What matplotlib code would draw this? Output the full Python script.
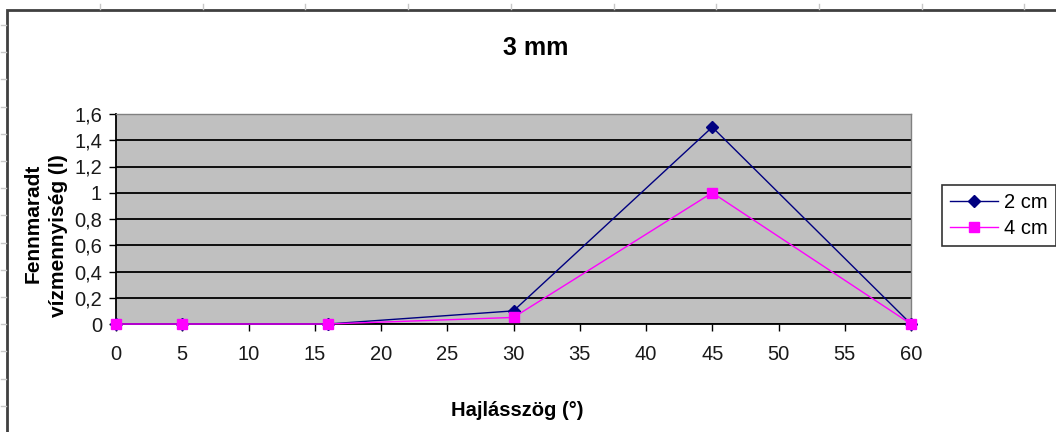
import matplotlib

matplotlib.use("Agg")

import matplotlib.pyplot as plt
from matplotlib.lines import Line2D
from matplotlib.patches import Rectangle
from matplotlib.ticker import FuncFormatter

# Hajlásszög (°) and remaining water (l) for the two distances
angles = [0, 5, 16, 30, 45, 60]
water_2cm = [0, 0, 0, 0.1, 1.5, 0]
water_4cm = [0, 0, 0, 0.05, 1.0, 0]

x_ticks = list(range(0, 61, 5))
y_ticks = [0, 0.2, 0.4, 0.6, 0.8, 1.0, 1.2, 1.4, 1.6]

plt.rcParams["font.family"] = ["Liberation Sans", "DejaVu Sans"]

W, H = 1056, 432
fig = plt.figure(figsize=(W / 100, H / 100), dpi=100)
fig.patch.set_facecolor("white")

# chart area border (only top and left visible) + sheet cell ticks
fig.add_artist(Rectangle((7 / W, -0.1), 1.2, 1 - 10 / H + 0.1,
                         transform=fig.transFigure, fill=False,
                         edgecolor="#404040", linewidth=2))
for i in range(1, 11):
    x = (100 + 102.7 * (i - 1)) / W
    fig.add_artist(Line2D([x, x], [1 - 4 / H, 1 - 9 / H],
                          transform=fig.transFigure, color="#c8c8c8", lw=1))
for i in range(1, 16):
    y = 1 - (25 + 27.2 * (i - 1)) / H
    fig.add_artist(Line2D([1 / W, 6 / W], [y, y],
                          transform=fig.transFigure, color="#c8c8c8", lw=1))

ax = fig.add_axes([116 / W, 1 - 324 / H, 795 / W, 210 / H])
ax.set_facecolor("#c0c0c0")

ax.plot(angles, water_2cm, color="#000080", lw=1, marker="D",
        markersize=6, markerfacecolor="#000080", markeredgecolor="#000080",
        label="2 cm", clip_on=False, zorder=3)
ax.plot(angles, water_4cm, color="#ff00ff", lw=1, marker="s",
        markersize=7, markerfacecolor="#ff00ff", markeredgecolor="#ff00ff",
        label="4 cm", clip_on=False, zorder=4)

ax.set_xlim(0, 60)
ax.set_ylim(0, 1.6)
ax.set_xticks(x_ticks)
ax.set_yticks(y_ticks)
ax.yaxis.set_major_formatter(FuncFormatter(lambda v, p: f"{v:g}".replace(".", ",")))
ax.grid(axis="y", color="black", linewidth=1.3)
ax.set_axisbelow(True)

for side in ("top", "right"):
    ax.spines[side].set_color("#808080")
    ax.spines[side].set_linewidth(1)
for side in ("left", "bottom"):
    ax.spines[side].set_color("black")
    ax.spines[side].set_linewidth(1.3)

ax.tick_params(axis="both", direction="out", length=5, width=1,
               color="black", labelsize=14.5, labelcolor="#1a1a1a")
ax.tick_params(axis="y", pad=5)
ax.tick_params(axis="x", pad=10)

fig.text(536 / W, 1 - 48 / H, "3 mm", ha="center", va="center",
         fontsize=18, fontweight="bold")
fig.text(517 / W, 1 - 411 / H, "Hajlásszög (°)", ha="center", va="center",
         fontsize=14.5, fontweight="bold")
fig.text(33 / W, 1 - 223 / H, "Fennmaradt", ha="center", va="center",
         rotation=90, fontsize=15, fontweight="bold")
fig.text(58 / W, 1 - 236 / H, "vízmennyiség (l)", ha="center", va="center",
         rotation=90, fontsize=15, fontweight="bold")

leg = ax.legend(loc="upper left", bbox_to_anchor=(942 / W, 1 - 185 / H),
                bbox_transform=fig.transFigure, fontsize=14.5,
                frameon=True, fancybox=False, handlelength=2.4,
                handletextpad=0.3, borderpad=0.4, labelspacing=0.35,
                borderaxespad=0)
leg.get_frame().set_edgecolor("black")
leg.get_frame().set_linewidth(1.2)

fig.savefig("out.png", dpi=100, facecolor="white")
